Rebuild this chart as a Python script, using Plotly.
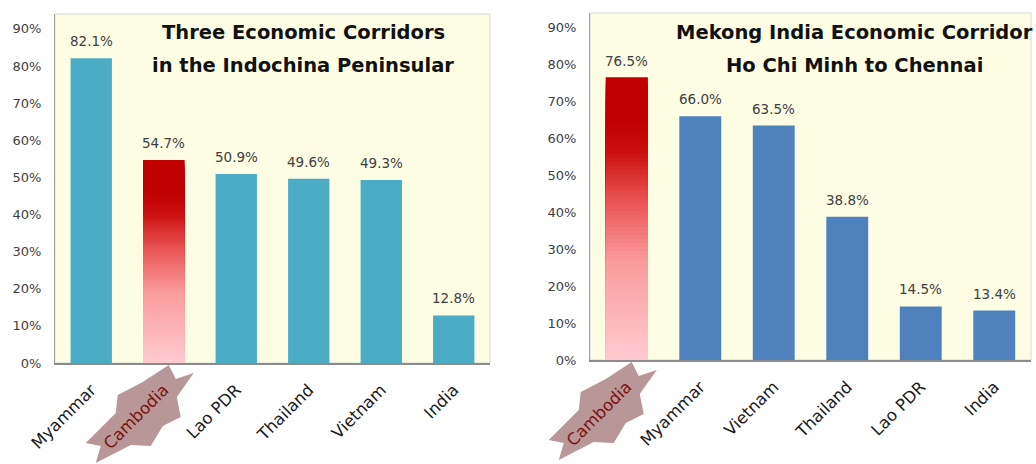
import plotly.graph_objects as go
from plotly.colors import sample_colorscale

W, H = 1036, 464

# ---- data -----------------------------------------------------------------
left_countries = ["Myammar", "Cambodia", "Lao PDR", "Thailand", "Vietnam", "India"]
left_values = [82.1, 54.7, 50.9, 49.6, 49.3, 12.8]
left_title = ["Three Economic Corridors", "in the Indochina Peninsular"]

right_countries = ["Cambodia", "Myammar", "Vietnam", "Thailand", "Lao PDR", "India"]
right_values = [76.5, 66.0, 63.5, 38.8, 14.5, 13.4]
right_title = ["Mekong India Economic Corridor", "Ho Chi Minh to Chennai"]

y_ticks = [0, 10, 20, 30, 40, 50, 60, 70, 80, 90]
highlight = "Cambodia"

# ---- styling ----------------------------------------------------------------
FONT = "DejaVu Sans"
TEXT_GREY = "#404040"
PLOT_BG = "#FDFDE4"
LEFT_BLUE = "#4BACC6"
RIGHT_BLUE = "#4F81BD"
DEEP_RED = "#C00000"
STAR_FILL = "#B99697"
STAR_TEXT = "#7A1212"
RED_SCALE = [[0.0, "#FFCBD0"], [0.35, "#FA9B9C"], [0.56, "#EA5556"],
             [0.74, "#CB0E0E"], [0.84, "#C00000"], [1.0, "#C00000"]]
N_SHADES = 70


def px_x(p):
    return p / W


def px_y(p):
    return (H - p) / H


panels = [
    dict(cats=left_countries, vals=left_values, title=left_title, color=LEFT_BLUE,
         xd=[px_x(55), px_x(490)], yd=[px_y(363), px_y(14)],
         title_x=303, ax="x", ay="y"),
    dict(cats=right_countries, vals=right_values, title=right_title, color=RIGHT_BLUE,
         xd=[px_x(590), px_x(1031)], yd=[px_y(360), px_y(13)],
         title_x=854, ax="x2", ay="y2"),
]

# starburst behind the highlighted tick label, in pixels relative to the
# category centre on the baseline (y up)
star_pts = [(5, -2), (12, -16), (30, -10), (13, -34), (17, -54), (-1, -63),
            (-13, -83), (-33, -82), (-68, -100), (-63, -83), (-78, -80),
            (-48, -50), (-46, -32), (-21, -19)]
star_path = "M " + " L ".join(f"{x},{y}" for x, y in star_pts) + " Z"

fig = go.Figure()
shapes, annotations = [], []
layout_axes = {}

for k, p in enumerate(panels):
    cats, vals = p["cats"], p["vals"]
    colors = [DEEP_RED if c == highlight else p["color"] for c in cats]
    fig.add_trace(go.Bar(
        x=cats, y=vals, width=0.57, marker=dict(color=colors, line=dict(width=0)),
        xaxis=p["ax"], yaxis=p["ay"], showlegend=False,
        hovertemplate="%{x}: %{y:.1f}%<extra></extra>"))

    # shaded highlight bar: nested bars drawn tallest (darkest) first
    hv = vals[cats.index(highlight)]
    fracs = [1 - i / N_SHADES for i in range(N_SHADES)]
    shade_cols = sample_colorscale(RED_SCALE, [f - 0.5 / N_SHADES for f in fracs])
    fig.add_trace(go.Bar(
        x=[highlight] * N_SHADES, y=[hv * f for f in fracs], width=0.57,
        marker=dict(color=shade_cols, line=dict(width=0)),
        xaxis=p["ax"], yaxis=p["ay"], showlegend=False, hoverinfo="skip"))

    xa = "xaxis" if k == 0 else "xaxis2"
    ya = "yaxis" if k == 0 else "yaxis2"
    ticktext = [f'<span style="color:{STAR_TEXT}">{c}</span>' if c == highlight else c
                for c in cats]
    layout_axes[xa] = dict(
        domain=p["xd"], anchor=p["ay"], type="category", automargin=False,
        categoryorder="array", categoryarray=cats,
        tickmode="array", tickvals=cats, ticktext=ticktext,
        tickangle=-45, ticks="", showgrid=False,
        showline=True, linecolor="#8C8C8C", linewidth=1.5,
        ticklabelstandoff=9,
        tickfont=dict(family=FONT, size=16.5, color="#1a1a1a"),
        fixedrange=True)
    layout_axes[ya] = dict(
        domain=p["yd"], anchor=p["ax"], range=[0, 94], automargin=False,
        tickmode="array", tickvals=y_ticks, ticktext=[f"{t}%" for t in y_ticks],
        ticks="", showgrid=False, zeroline=False,
        showline=True, linecolor="#A0A0A0", linewidth=1,
        ticklabelstandoff=10,
        tickfont=dict(family=FONT, size=13, color=TEXT_GREY),
        fixedrange=True)

    xref_dom = ("x" if k == 0 else "x2") + " domain"
    yref_dom = ("y" if k == 0 else "y2") + " domain"
    # light frame around the plotting area
    shapes.append(dict(type="rect", xref=xref_dom, yref=yref_dom,
                       x0=0, x1=1, y0=0, y1=1,
                       line=dict(color="#D6D6D6", width=1), layer="below"))
    # starburst behind the highlighted label
    shapes.append(dict(type="path", xref=xref_dom, yref=yref_dom,
                       xsizemode="pixel", ysizemode="pixel",
                       xanchor=(cats.index(highlight) + 0.5) / len(cats), yanchor=0,
                       path=star_path, fillcolor=STAR_FILL,
                       line=dict(width=0), layer="below"))

    # value labels
    for c, v in zip(cats, vals):
        annotations.append(dict(
            x=c, y=v, xref=p["ax"], yref=p["ay"], text=f"{v:.1f}%",
            showarrow=False, yanchor="bottom", yshift=7,
            font=dict(family=FONT, size=13.5, color=TEXT_GREY)))

    # two-line title
    for line, ty in zip(p["title"], [32, 65]):
        annotations.append(dict(
            x=px_x(p["title_x"]), y=px_y(ty), xref="paper", yref="paper",
            text=f"<b>{line}</b>", showarrow=False,
            xanchor="center", yanchor="middle",
            font=dict(family=FONT, size=19.5, color="#111111")))

fig.update_layout(
    width=W, height=H, margin=dict(l=0, r=0, t=0, b=0, autoexpand=False),
    paper_bgcolor="white", plot_bgcolor=PLOT_BG,
    barmode="overlay", bargap=0.43,
    shapes=shapes, annotations=annotations,
    **layout_axes)

fig.write_html("out.html")
